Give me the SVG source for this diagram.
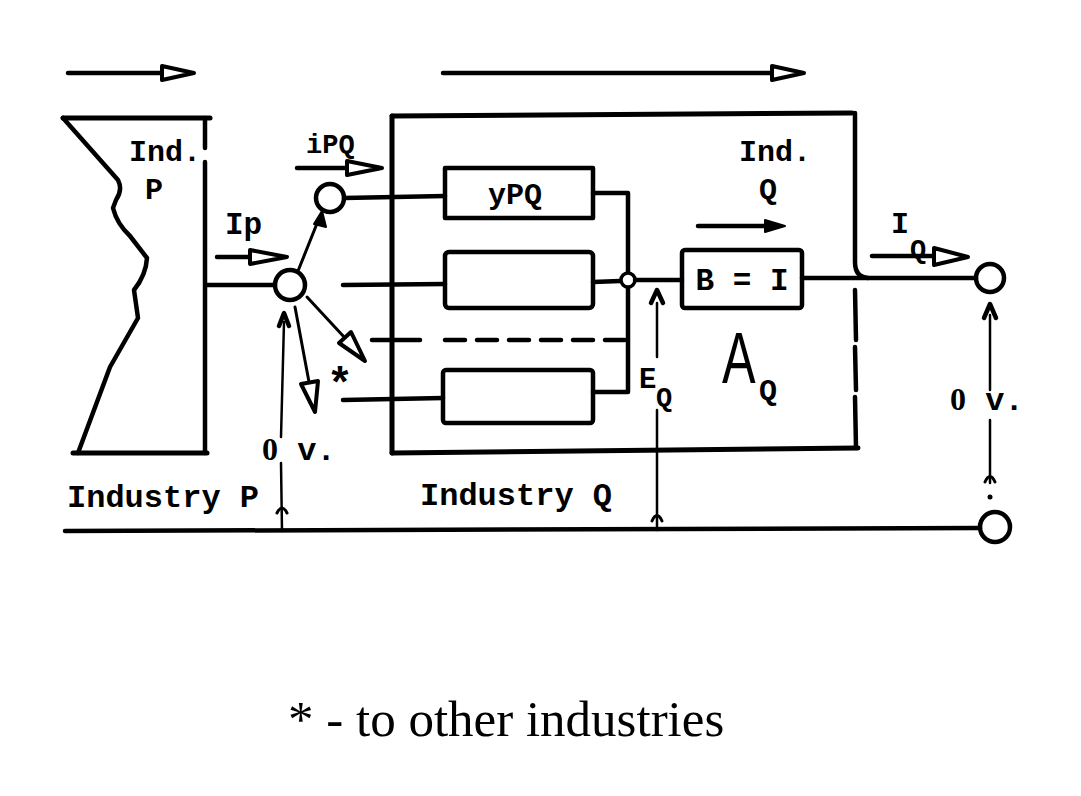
<svg xmlns="http://www.w3.org/2000/svg" width="1081" height="796" viewBox="0 0 1081 796">
<style>
.ln{fill:none;stroke:#000;stroke-linecap:round;stroke-linejoin:round}
.k5{stroke-width:5}
.k4{stroke-width:4.5}
.k3{stroke-width:3}
.k2{stroke-width:2.5}
.hd{fill:#fff;stroke:#000;stroke-width:4;stroke-linejoin:round}
.fh{fill:#000;stroke:#000;stroke-width:2;stroke-linejoin:round}
.nd{fill:#fff;stroke:#000;stroke-width:4.5}
.tw{font-family:"Liberation Mono","DejaVu Sans Mono",monospace;font-weight:bold;fill:#000}
.zr{font-family:"Liberation Serif","Times New Roman",serif;font-weight:bold}
.sf{font-family:"Liberation Serif","Times New Roman",serif;fill:#000}
</style>
<rect width="1081" height="796" fill="#fff"/>

<g id="flow-arrows">
  <line class="ln k4" x1="68" y1="73" x2="165" y2="73"/>
  <polygon class="hd" points="162,66 194,73 162,80"/>
  <line class="ln k4" x1="443" y1="73" x2="775" y2="73"/>
  <polygon class="hd" points="772,66 804,73 772,80"/>
</g>

<g id="industry-p">
  <path class="ln k5" d="M63,118 L210,118"/>
  <path class="ln k4" d="M63,118 L118,180 Q123,190 116,200 L113,208 Q117,224 130,236 L147,258 Q146,275 134,290 L138,318 L110,367 L78,453"/>
  <path class="ln k5" d="M73,453 L207,453"/>
  <path class="ln k4" d="M205,118 L205,148 M205,162 L205,453"/>
  <text class="tw" x="129" y="161" font-size="30">Ind.</text>
  <text class="tw" x="145" y="199" font-size="30">P</text>
  <text class="tw" x="67" y="507" font-size="32">Industry P</text>
</g>

<g id="split-node">
  <circle class="nd" cx="290" cy="285" r="15"/>
</g>
<g id="ipq-node">
  <circle class="nd" cx="330" cy="198" r="14"/>
</g>

<g id="industry-q">
  <path class="ln k5" d="M392,116 L852,113"/>
  <path class="ln k5" d="M392,116 L392,453"/>
  <path class="ln k5" d="M392,453 L858,448"/>
  <path class="ln k4" d="M855,113 L855,262 Q855,277 868,278"/>
  <path class="ln k4" d="M855,290 L856,340 M855,347 L856,390 M855,397 L856,448"/>
  <text class="tw" x="739" y="161" font-size="30">Ind.</text>
  <text class="tw" x="759" y="199" font-size="30">Q</text>
  <text class="tw" x="420" y="505" font-size="32">Industry Q</text>
  <text x="0" y="0" font-family="Liberation Sans, Arial, sans-serif" font-size="72" transform="translate(722,383) scale(0.7,1)">A</text>
  <text class="tw" x="759" y="400" font-size="30">Q</text>
</g>

<g id="box-ypq">
  <rect class="ln k4" x="445" y="168" width="148" height="50" fill="#fff"/>
  <text class="tw" x="515" y="204" font-size="30" text-anchor="middle">yPQ</text>
</g>
<g id="box-2">
  <rect class="ln k4" x="445" y="252" width="148" height="56" rx="4"/>
</g>
<g id="box-3">
  <rect class="ln k4" x="443" y="370" width="150" height="53" rx="3"/>
</g>
<g id="box-bi">
  <rect class="ln k4" x="682" y="250" width="120" height="58" rx="3"/>
  <text class="tw" x="742" y="290" font-size="31" text-anchor="middle">B = I</text>
</g>
<g id="output-node">
  <circle class="nd" cx="990" cy="278" r="14"/>
</g>
<g id="ground-node">
  <circle class="nd" cx="995" cy="527" r="15"/>
</g>

<g id="connectors">
  <line class="ln k4" x1="207" y1="285" x2="275" y2="285"/>
  <line class="ln k3" x1="298" y1="271" x2="320" y2="216"/>
  <polygon class="fh" points="314,224 322,211 326,227"/>
  <line class="ln k3" x1="307" y1="297" x2="345" y2="338"/>
  <polygon class="hd" points="339,343 351,332 365,361"/>
  <line class="ln k3" x1="295" y1="307" x2="309" y2="382"/>
  <polygon class="hd" points="301,384 318,381 315,412"/>
  <text class="tw" x="340" y="398" font-size="44" text-anchor="middle">*</text>
  <line class="ln k4" x1="344" y1="198" x2="445" y2="196"/>
  <line class="ln k4" x1="343" y1="285" x2="445" y2="284"/>
  <line class="ln k4" x1="372" y1="340" x2="420" y2="340"/>
  <line class="ln k4" x1="445" y1="340" x2="628" y2="340" stroke-dasharray="20 12"/>
  <line class="ln k4" x1="343" y1="400" x2="443" y2="398"/>
  <path class="ln k4" d="M593,193 L628,193 L628,272 M628,288 L628,392 L593,392"/>
  <path class="ln k4" d="M593,282 L620,281"/>
  <circle cx="628" cy="280" r="7" fill="#fff" stroke="#000" stroke-width="3.5"/>
  <path class="ln k4" d="M635,280 L682,280"/>
  <path class="ln k4" d="M802,278 L976,278"/>
  <path class="ln k4" d="M651,303 L657,290 L663,303"/>
  <line class="ln k2" x1="657" y1="303" x2="657" y2="357"/>
  <line class="ln k2" x1="657" y1="410" x2="657" y2="530"/>
  <path class="ln k3" d="M652,521 Q657,510 662,521"/>
  <line class="ln k4" x1="65" y1="531" x2="980" y2="528"/>
  <path class="ln k4" d="M279,326 L284,313 L289,326"/>
  <line class="ln k2" x1="284" y1="322" x2="281" y2="437"/>
  <line class="ln k2" x1="281" y1="463" x2="282" y2="531"/>
  <path class="ln k3" d="M277,513 Q282,503 287,513"/>
  <path class="ln k4" d="M984,318 L990,304 L996,318"/>
  <line class="ln k2" x1="990" y1="315" x2="990" y2="390"/>
  <line class="ln k2" x1="990" y1="420" x2="990" y2="483"/>
  <path class="ln k3" d="M985,482 Q990,471 995,482"/>
  <circle cx="990" cy="497" r="2.5" fill="#000"/>
  <line class="ln k4" x1="217" y1="257" x2="253" y2="257"/>
  <polygon class="hd" points="250,250 287,257 250,264"/>
  <line class="ln k4" x1="297" y1="168" x2="350" y2="168"/>
  <polygon class="hd" points="347,161 382,168 347,175"/>
  <line class="ln k4" x1="698" y1="226" x2="768" y2="226"/>
  <polygon class="fh" points="765,220 785,226 765,232"/>
  <line class="ln k4" x1="872" y1="256" x2="937" y2="256"/>
  <polygon class="hd" points="934,248 968,257 934,265"/>
</g>

<g id="labels">
  <text class="tw" x="225" y="234" font-size="31">Ip</text>
  <text class="tw" x="306" y="153" font-size="27">iPQ</text>
  <text class="tw" x="639" y="388" font-size="29">E</text>
  <text class="tw" x="656" y="406" font-size="27">Q</text>
  <text class="tw" x="891" y="233" font-size="30">I</text>
  <text class="tw" x="910" y="258" font-size="27">Q</text>
  <text class="tw" x="262" y="460" font-size="32"><tspan class="zr">0</tspan> v.</text>
  <text class="tw" x="950" y="410" font-size="32"><tspan class="zr">0</tspan> v.</text>
  <text class="sf" x="288" y="736" font-size="51">* - to other industries</text>
</g>
</svg>
